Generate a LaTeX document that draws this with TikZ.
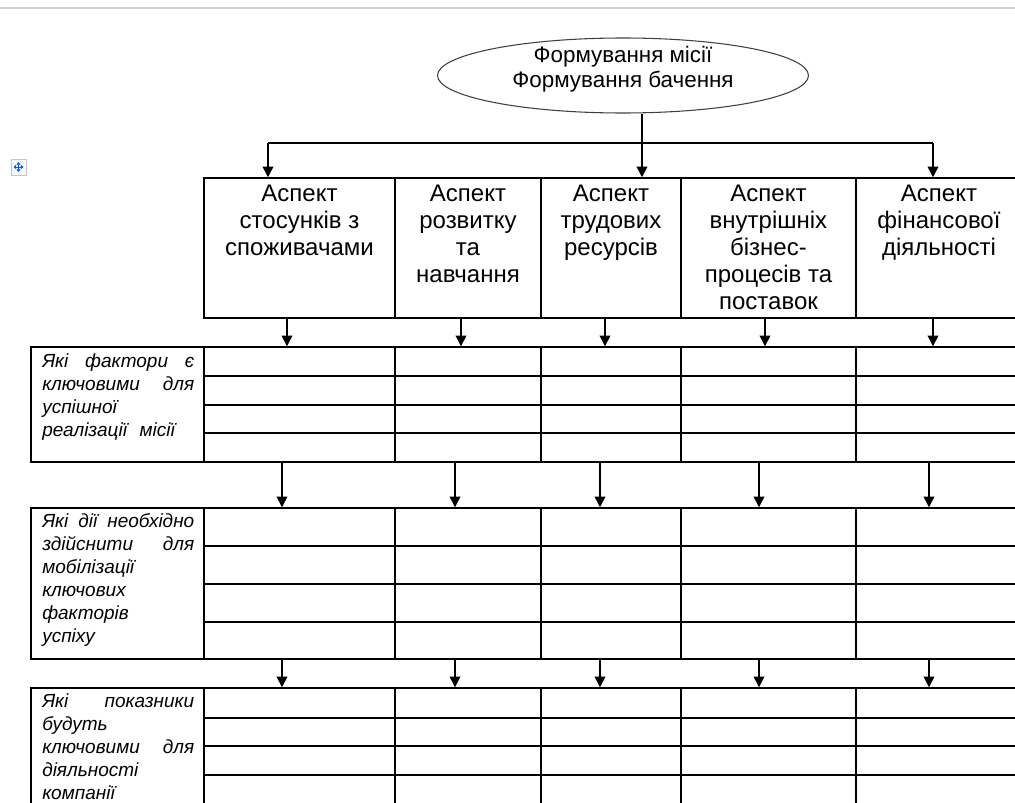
\documentclass[tikz,border=0pt]{standalone}
\usepackage{fontspec}
\setmainfont{Liberation Sans}
\usetikzlibrary{positioning, arrows.meta, shapes.geometric, fit}
\newcommand{\jline}[1]{\makebox[114pt][s]{#1}}
\tikzset{
	goalnode/.style={ellipse, draw=black!75, line width=0.8pt, inner sep=0pt,
		minimum width=278.25pt, minimum height=56.25pt},
	goaltext/.style={align=center, inner sep=0pt, font=\fontsize{16.8pt}{18.75pt}\selectfont},
	headcell/.style={draw, line width=1.1pt, inner sep=0pt},
	headtext/.style={align=center, inner sep=0pt, font=\fontsize{18pt}{20.25pt}\selectfont},
	tablebox/.style={draw, line width=1.1pt, inner sep=0pt},
	gridline/.style={line width=1.1pt},
	asktext/.style={align=left, text width=114pt, inner sep=0pt,
		font=\fontsize{14.25pt}{17.25pt}\selectfont\itshape},
	flowarr/.style={-{Triangle[length=8pt, width=8pt]}, line width=1.1pt},
	movearr/.style={{Triangle[length=2pt, width=3pt]}-{Triangle[length=2pt, width=3pt]},
		draw=blue!65!cyan, line width=0.7pt}
}
\begin{document}
\begin{tikzpicture}[x=0.75pt, y=-0.75pt]
	\useasboundingbox (0,0) rectangle (1015,803);
	\clip (0,0) rectangle (1015,803);
	\draw[gray!35, line width=1.2pt] (0,8) -- (1015,8);
	\draw[gray!45, fill=gray!5, line width=0.6pt] (11,159) rectangle (26,175);
	\draw[movearr] (13.5,167) -- (23.5,167);
	\draw[movearr] (18.5,162) -- (18.5,172);

	\node[goalnode] (goal) at (623,75.5) {};
	\node[goaltext, anchor=north] (goal-txt) at (623,46) {Формування місії\\Формування бачення};

	\foreach \n/\xa/\xb in {h1/204/395, h2/395/541, h3/541/681, h4/681/856, h5/856/1022}
		\node[headcell, fit={(\xa,178) (\xb,318)}] (\n) {};
	\foreach \n/\txt in {h1/{Аспект\\стосунків з\\споживачами}, h2/{Аспект\\розвитку\\та\\навчання},
			h3/{Аспект\\трудових\\ресурсів}, h4/{Аспект\\внутрішніх\\бізнес-\\процесів та\\поставок},
			h5/{Аспект\\фінансової\\діяльності}}
		\node[headtext, below=5.25pt of \n.north] (\n-txt) {\txt};
	\node[fit=(h1)(h5), inner sep=0pt] (head) {};

	\coordinate (bus) at (642,143);
	\coordinate (busl) at (268,143);
	\coordinate (busr) at (933,143);
	\draw[gridline] (bus |- goal.south) -- (bus);
	\draw[gridline] (busl) -- (busr);
	\foreach \c/\n in {busl/h1, bus/h3, busr/h5}
		\draw[flowarr] (\c) -- (\c |- \n.north);

	\foreach \n/\ya/\yb in {fac/347/462, act/508/659, ind/688/830}
		\node[tablebox, fit={(31,\ya) (1022,\yb)}] (\n) {};
	\foreach \ya/\yb/\rows in {347/462/{376,405,433}, 508/659/{546,584,622}, 688/830/{718,746,775,804}} {
		\foreach \x in {204,395,541,681,856}
			\draw[gridline] (\x,\ya) -- (\x,\yb);
		\foreach \y in \rows
			\draw[gridline] (204,\y) -- (1022,\y);
	}

	\foreach \x in {287,461,605,765,933}
		\draw[flowarr] (head.south -| \x,0) -- (fac.north -| \x,0);
	\foreach \x in {282,455,600,759,929} {
		\draw[flowarr] (fac.south -| \x,0) -- (act.north -| \x,0);
		\draw[flowarr] (act.south -| \x,0) -- (ind.north -| \x,0);
	}

	\node[asktext, anchor=north west] (fac-ask) at (42,353)
		{\jline{Які\hfill фактори\hfill є}\\\jline{ключовими\hfill для}\\успішної\\реалізації\ \ місії};
	\node[asktext, anchor=north west] (act-ask) at (42,513)
		{\jline{Які\hfill дії\hfill необхідно}\\\jline{здійснити\hfill для}\\мобілізації\\ключових\\факторів\\успіху};
	\node[asktext, anchor=north west] (ind-ask) at (42,693)
		{\jline{Які\hfill показники}\\будуть\\\jline{ключовими\hfill для}\\діяльності\\компанії};
\end{tikzpicture}
\end{document}
